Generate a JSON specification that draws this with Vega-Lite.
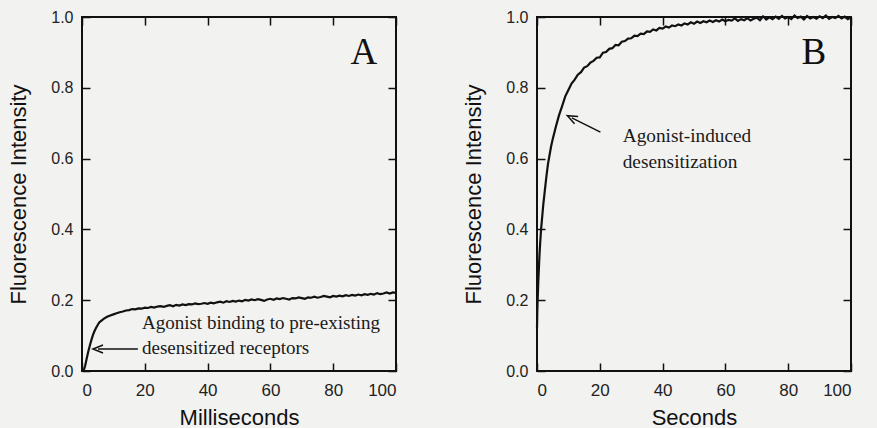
{
  "$schema": "https://vega.github.io/schema/vega-lite/v6.json",
  "autosize": {"type": "pad"},
  "padding": {"left": 6, "top": 8, "right": 27, "bottom": 0},
  "background": "#f2f2f1",
  "config": {
    "view": {"stroke": "#111", "strokeWidth": 2},
    "axis": {"domain": false, "grid": false, "ticks": true, "tickSize": -8, "tickWidth": 1.5, "tickColor": "#111",
      "labelFont": "Liberation Sans", "labelFontSize": 16, "labelColor": "#222",
      "titleFont": "Liberation Sans", "titleFontSize": 22, "titleFontWeight": "normal", "titleColor": "#111"},
    "axisLeft": {"labelPadding": 17},
    "axisBottom": {"labelPadding": 19, "labelFontSize": 17}
  },
  "datasets": {
    "curveA": [
      {"t":0.5,"f":0.0},{"t":1,"f":0.015},{"t":1.5,"f":0.035},{"t":2,"f":0.055},{"t":2.5,"f":0.072},{"t":3,"f":0.088},{"t":3.5,"f":0.102},{"t":4,"f":0.113},{"t":4.5,"f":0.122},{"t":5,"f":0.13},{"t":5.5,"f":0.137},{"t":6,"f":0.141},{"t":7,"f":0.148},{"t":8,"f":0.153},{"t":9,"f":0.157},{"t":10,"f":0.16},{"t":11,"f":0.163},{"t":12,"f":0.166},{"t":13,"f":0.168},{"t":14,"f":0.171},{"t":15,"f":0.172},{"t":16,"f":0.175},{"t":17,"f":0.174},{"t":18,"f":0.177},{"t":19,"f":0.176},{"t":20,"f":0.179},{"t":21,"f":0.178},{"t":22,"f":0.181},{"t":23,"f":0.179},{"t":24,"f":0.182},{"t":25,"f":0.183},{"t":26,"f":0.181},{"t":27,"f":0.184},{"t":28,"f":0.186},{"t":29,"f":0.183},{"t":30,"f":0.187},{"t":31,"f":0.185},{"t":32,"f":0.188},{"t":33,"f":0.186},{"t":34,"f":0.189},{"t":35,"f":0.188},{"t":36,"f":0.191},{"t":37,"f":0.189},{"t":38,"f":0.19},{"t":39,"f":0.192},{"t":40,"f":0.19},{"t":41,"f":0.193},{"t":42,"f":0.191},{"t":43,"f":0.194},{"t":44,"f":0.196},{"t":45,"f":0.193},{"t":46,"f":0.197},{"t":47,"f":0.195},{"t":48,"f":0.198},{"t":49,"f":0.196},{"t":50,"f":0.199},
      {"t":51,"f":0.197},{"t":52,"f":0.201},{"t":53,"f":0.199},{"t":54,"f":0.202},{"t":55,"f":0.2},{"t":56,"f":0.203},{"t":57,"f":0.201},{"t":58,"f":0.198},{"t":59,"f":0.202},{"t":60,"f":0.204},{"t":61,"f":0.201},{"t":62,"f":0.205},{"t":63,"f":0.203},{"t":64,"f":0.206},{"t":65,"f":0.204},{"t":66,"f":0.202},{"t":67,"f":0.206},{"t":68,"f":0.205},{"t":69,"f":0.208},{"t":70,"f":0.206},{"t":71,"f":0.204},{"t":72,"f":0.208},{"t":73,"f":0.207},{"t":74,"f":0.21},{"t":75,"f":0.207},{"t":76,"f":0.209},{"t":77,"f":0.212},{"t":78,"f":0.21},{"t":79,"f":0.208},{"t":80,"f":0.212},{"t":81,"f":0.21},{"t":82,"f":0.213},{"t":83,"f":0.211},{"t":84,"f":0.214},{"t":85,"f":0.212},{"t":86,"f":0.215},{"t":87,"f":0.213},{"t":88,"f":0.216},{"t":89,"f":0.214},{"t":90,"f":0.217},{"t":91,"f":0.215},{"t":92,"f":0.218},{"t":93,"f":0.216},{"t":94,"f":0.22},{"t":95,"f":0.217},{"t":96,"f":0.219},{"t":97,"f":0.222},{"t":98,"f":0.219},{"t":99,"f":0.222},{"t":100,"f":0.221}
    ],
    "curveB": [
      {"t":0,"f":0.12},{"t":0.1,"f":0.17},{"t":0.2,"f":0.2},{"t":0.4,"f":0.25},{"t":0.6,"f":0.29},{"t":0.8,"f":0.33},{"t":1.0,"f":0.36},{"t":1.3,"f":0.4},{"t":1.6,"f":0.43},{"t":2.0,"f":0.47},{"t":2.5,"f":0.51},{"t":3.0,"f":0.55},{"t":3.5,"f":0.585},{"t":4.0,"f":0.61},{"t":4.5,"f":0.635},{"t":5,"f":0.655},{"t":6,"f":0.69},{"t":7,"f":0.722},{"t":8,"f":0.748},{"t":9,"f":0.776},{"t":10,"f":0.794},{"t":11,"f":0.812},{"t":12,"f":0.823},{"t":13,"f":0.837},{"t":14,"f":0.844},{"t":15,"f":0.857},{"t":16,"f":0.861},{"t":17,"f":0.871},{"t":18,"f":0.876},{"t":19,"f":0.885},
      {"t":20,"f":0.886},{"t":21,"f":0.899},{"t":22,"f":0.901},{"t":23,"f":0.91},{"t":24,"f":0.912},{"t":25,"f":0.921},{"t":26,"f":0.92},{"t":27,"f":0.93},{"t":28,"f":0.932},{"t":29,"f":0.939},{"t":30,"f":0.94},{"t":31,"f":0.947},{"t":32,"f":0.946},{"t":33,"f":0.953},{"t":34,"f":0.952},{"t":35,"f":0.959},{"t":36,"f":0.958},{"t":37,"f":0.965},{"t":38,"f":0.962},{"t":39,"f":0.969},{"t":40,"f":0.967},{"t":41,"f":0.973},{"t":42,"f":0.97},{"t":43,"f":0.976},{"t":44,"f":0.974},{"t":45,"f":0.979},{"t":46,"f":0.976},{"t":47,"f":0.982},{"t":48,"f":0.979},{"t":49,"f":0.985},{"t":50,"f":0.981},
      {"t":51,"f":0.987},{"t":52,"f":0.983},{"t":53,"f":0.988},{"t":54,"f":0.985},{"t":55,"f":0.99},{"t":56,"f":0.986},{"t":57,"f":0.991},{"t":58,"f":0.987},{"t":59,"f":0.993},{"t":60,"f":0.988},{"t":61,"f":0.992},{"t":62,"f":0.99},{"t":63,"f":0.996},{"t":64,"f":0.989},{"t":65,"f":0.994},{"t":66,"f":0.991},{"t":67,"f":0.997},{"t":68,"f":0.99},{"t":69,"f":0.995},{"t":70,"f":0.998},{"t":71,"f":0.991},{"t":72,"f":1.002},{"t":73,"f":0.993},{"t":74,"f":0.999},{"t":75,"f":0.994},{"t":76,"f":1.001},{"t":77,"f":0.995},{"t":78,"f":1.003},{"t":79,"f":0.996},{"t":80,"f":1.0},{"t":81,"f":0.994},{"t":82,"f":1.004},{"t":83,"f":0.997},{"t":84,"f":1.001},{"t":85,"f":0.993},{"t":86,"f":1.003},{"t":87,"f":0.996},{"t":88,"f":1.0},{"t":89,"f":0.995},{"t":90,"f":1.002},{"t":91,"f":0.997},{"t":92,"f":1.004},{"t":93,"f":0.995},{"t":94,"f":1.0},{"t":95,"f":0.997},{"t":96,"f":1.003},{"t":97,"f":0.996},{"t":98,"f":1.001},{"t":99,"f":0.994},{"t":100,"f":0.999}
    ],
    "textA": [
      {"x":19.1,"y":0.136,"label":"Agonist binding to pre-existing"},
      {"x":19.1,"y":0.065,"label":"desensitized receptors"}
    ],
    "textB": [
      {"x":27.3,"y":0.664,"label":"Agonist-induced"},
      {"x":27.3,"y":0.59,"label":"desensitization"}
    ],
    "arrowA": [{"x":17.8,"x2":5.1,"y":0.062,"y2":0.062,"angle":0}],
    "arrowB": [{"x":20.2,"x2":11.1,"y":0.675,"y2":0.715,"angle":26.6}],
    "letterA": [{"x":89.8,"y":0.898,"label":"A"}],
    "letterB": [{"x":88.2,"y":0.898,"label":"B"}]
  },
  "hconcat": [
    {
      "width": 314,
      "height": 354,
      "resolve": {"axis": {"x": "independent", "y": "independent"}},
      "layer": [
        {
          "data": {"name": "curveA"},
          "mark": {"type": "line", "color": "#111", "strokeWidth": 2.2},
          "encoding": {
            "x": {"field": "t", "type": "quantitative", "scale": {"domain": [0, 100], "nice": false},
              "axis": {"orient": "bottom", "values": [0,20,40,60,80,100], "title": "Milliseconds", "titlePadding": 9}},
            "y": {"field": "f", "type": "quantitative", "scale": {"domain": [0, 1], "nice": false},
              "axis": {"orient": "left", "values": [0,0.2,0.4,0.6,0.8,1.0], "format": ".1f", "title": "Fluorescence Intensity", "titlePadding": 20}}
          }
        },
        {
          "data": {"name": "curveA"},
          "mark": {"type": "point", "opacity": 0},
          "encoding": {
            "x": {"field": "t", "type": "quantitative", "axis": {"orient": "top", "values": [0,20,40,60,80,100], "labels": false, "title": null}},
            "y": {"field": "f", "type": "quantitative", "axis": {"orient": "right", "values": [0,0.2,0.4,0.6,0.8,1.0], "labels": false, "title": null}}
          }
        },
        {
          "data": {"name": "textA"},
          "mark": {"type": "text", "font": "Liberation Serif", "fontSize": 19, "align": "left", "baseline": "middle", "color": "#1a1a1a"},
          "encoding": {
            "x": {"field": "x", "type": "quantitative", "axis": null},
            "y": {"field": "y", "type": "quantitative", "axis": null},
            "text": {"field": "label"}
          }
        },
        {
          "data": {"name": "arrowA"},
          "mark": {"type": "rule", "color": "#111", "strokeWidth": 1.5},
          "encoding": {
            "x": {"field": "x", "type": "quantitative", "axis": null},
            "x2": {"field": "x2"},
            "y": {"field": "y", "type": "quantitative", "axis": null},
            "y2": {"field": "y2"}
          }
        },
        {
          "data": {"name": "arrowA"},
          "mark": {"type": "point", "shape": "M1,-0.8L-1,0L1,0.8", "filled": false, "color": "#111", "strokeWidth": 1.5, "size": 100, "opacity": 1},
          "encoding": {
            "x": {"field": "x2", "type": "quantitative", "axis": null},
            "y": {"field": "y2", "type": "quantitative", "axis": null},
            "angle": {"field": "angle", "type": "quantitative", "scale": null}
          }
        },
        {
          "data": {"name": "letterA"},
          "mark": {"type": "text", "font": "Liberation Serif", "fontSize": 37, "align": "center", "baseline": "middle", "color": "#111"},
          "encoding": {
            "x": {"field": "x", "type": "quantitative", "axis": null},
            "y": {"field": "y", "type": "quantitative", "axis": null},
            "text": {"field": "label"}
          }
        }
      ]
    },
    {
      "width": 314,
      "height": 354,
      "resolve": {"axis": {"x": "independent", "y": "independent"}},
      "layer": [
        {
          "data": {"name": "curveB"},
          "mark": {"type": "line", "color": "#111", "strokeWidth": 2.2},
          "encoding": {
            "x": {"field": "t", "type": "quantitative", "scale": {"domain": [0, 100], "nice": false},
              "axis": {"orient": "bottom", "values": [0,20,40,60,80,100], "title": "Seconds", "titlePadding": 9}},
            "y": {"field": "f", "type": "quantitative", "scale": {"domain": [0, 1], "nice": false},
              "axis": {"orient": "left", "values": [0,0.2,0.4,0.6,0.8,1.0], "format": ".1f", "title": "Fluorescence Intensity", "titlePadding": 20}}
          }
        },
        {
          "data": {"name": "curveB"},
          "mark": {"type": "point", "opacity": 0},
          "encoding": {
            "x": {"field": "t", "type": "quantitative", "axis": {"orient": "top", "values": [0,20,40,60,80,100], "labels": false, "title": null}},
            "y": {"field": "f", "type": "quantitative", "axis": {"orient": "right", "values": [0,0.2,0.4,0.6,0.8,1.0], "labels": false, "title": null}}
          }
        },
        {
          "data": {"name": "textB"},
          "mark": {"type": "text", "font": "Liberation Serif", "fontSize": 19.3, "align": "left", "baseline": "middle", "color": "#1a1a1a"},
          "encoding": {
            "x": {"field": "x", "type": "quantitative", "axis": null},
            "y": {"field": "y", "type": "quantitative", "axis": null},
            "text": {"field": "label"}
          }
        },
        {
          "data": {"name": "arrowB"},
          "mark": {"type": "rule", "color": "#111", "strokeWidth": 1.5},
          "encoding": {
            "x": {"field": "x", "type": "quantitative", "axis": null},
            "x2": {"field": "x2"},
            "y": {"field": "y", "type": "quantitative", "axis": null},
            "y2": {"field": "y2"}
          }
        },
        {
          "data": {"name": "arrowB"},
          "mark": {"type": "point", "shape": "M1,-0.8L-1,0L1,0.8", "filled": false, "color": "#111", "strokeWidth": 1.5, "size": 100, "opacity": 1},
          "encoding": {
            "x": {"field": "x2", "type": "quantitative", "axis": null},
            "y": {"field": "y2", "type": "quantitative", "axis": null},
            "angle": {"field": "angle", "type": "quantitative", "scale": null}
          }
        },
        {
          "data": {"name": "letterB"},
          "mark": {"type": "text", "font": "Liberation Serif", "fontSize": 37, "align": "center", "baseline": "middle", "color": "#111"},
          "encoding": {
            "x": {"field": "x", "type": "quantitative", "axis": null},
            "y": {"field": "y", "type": "quantitative", "axis": null},
            "text": {"field": "label"}
          }
        }
      ]
    }
  ],
  "spacing": 141,
  "bounds": "flush"
}
